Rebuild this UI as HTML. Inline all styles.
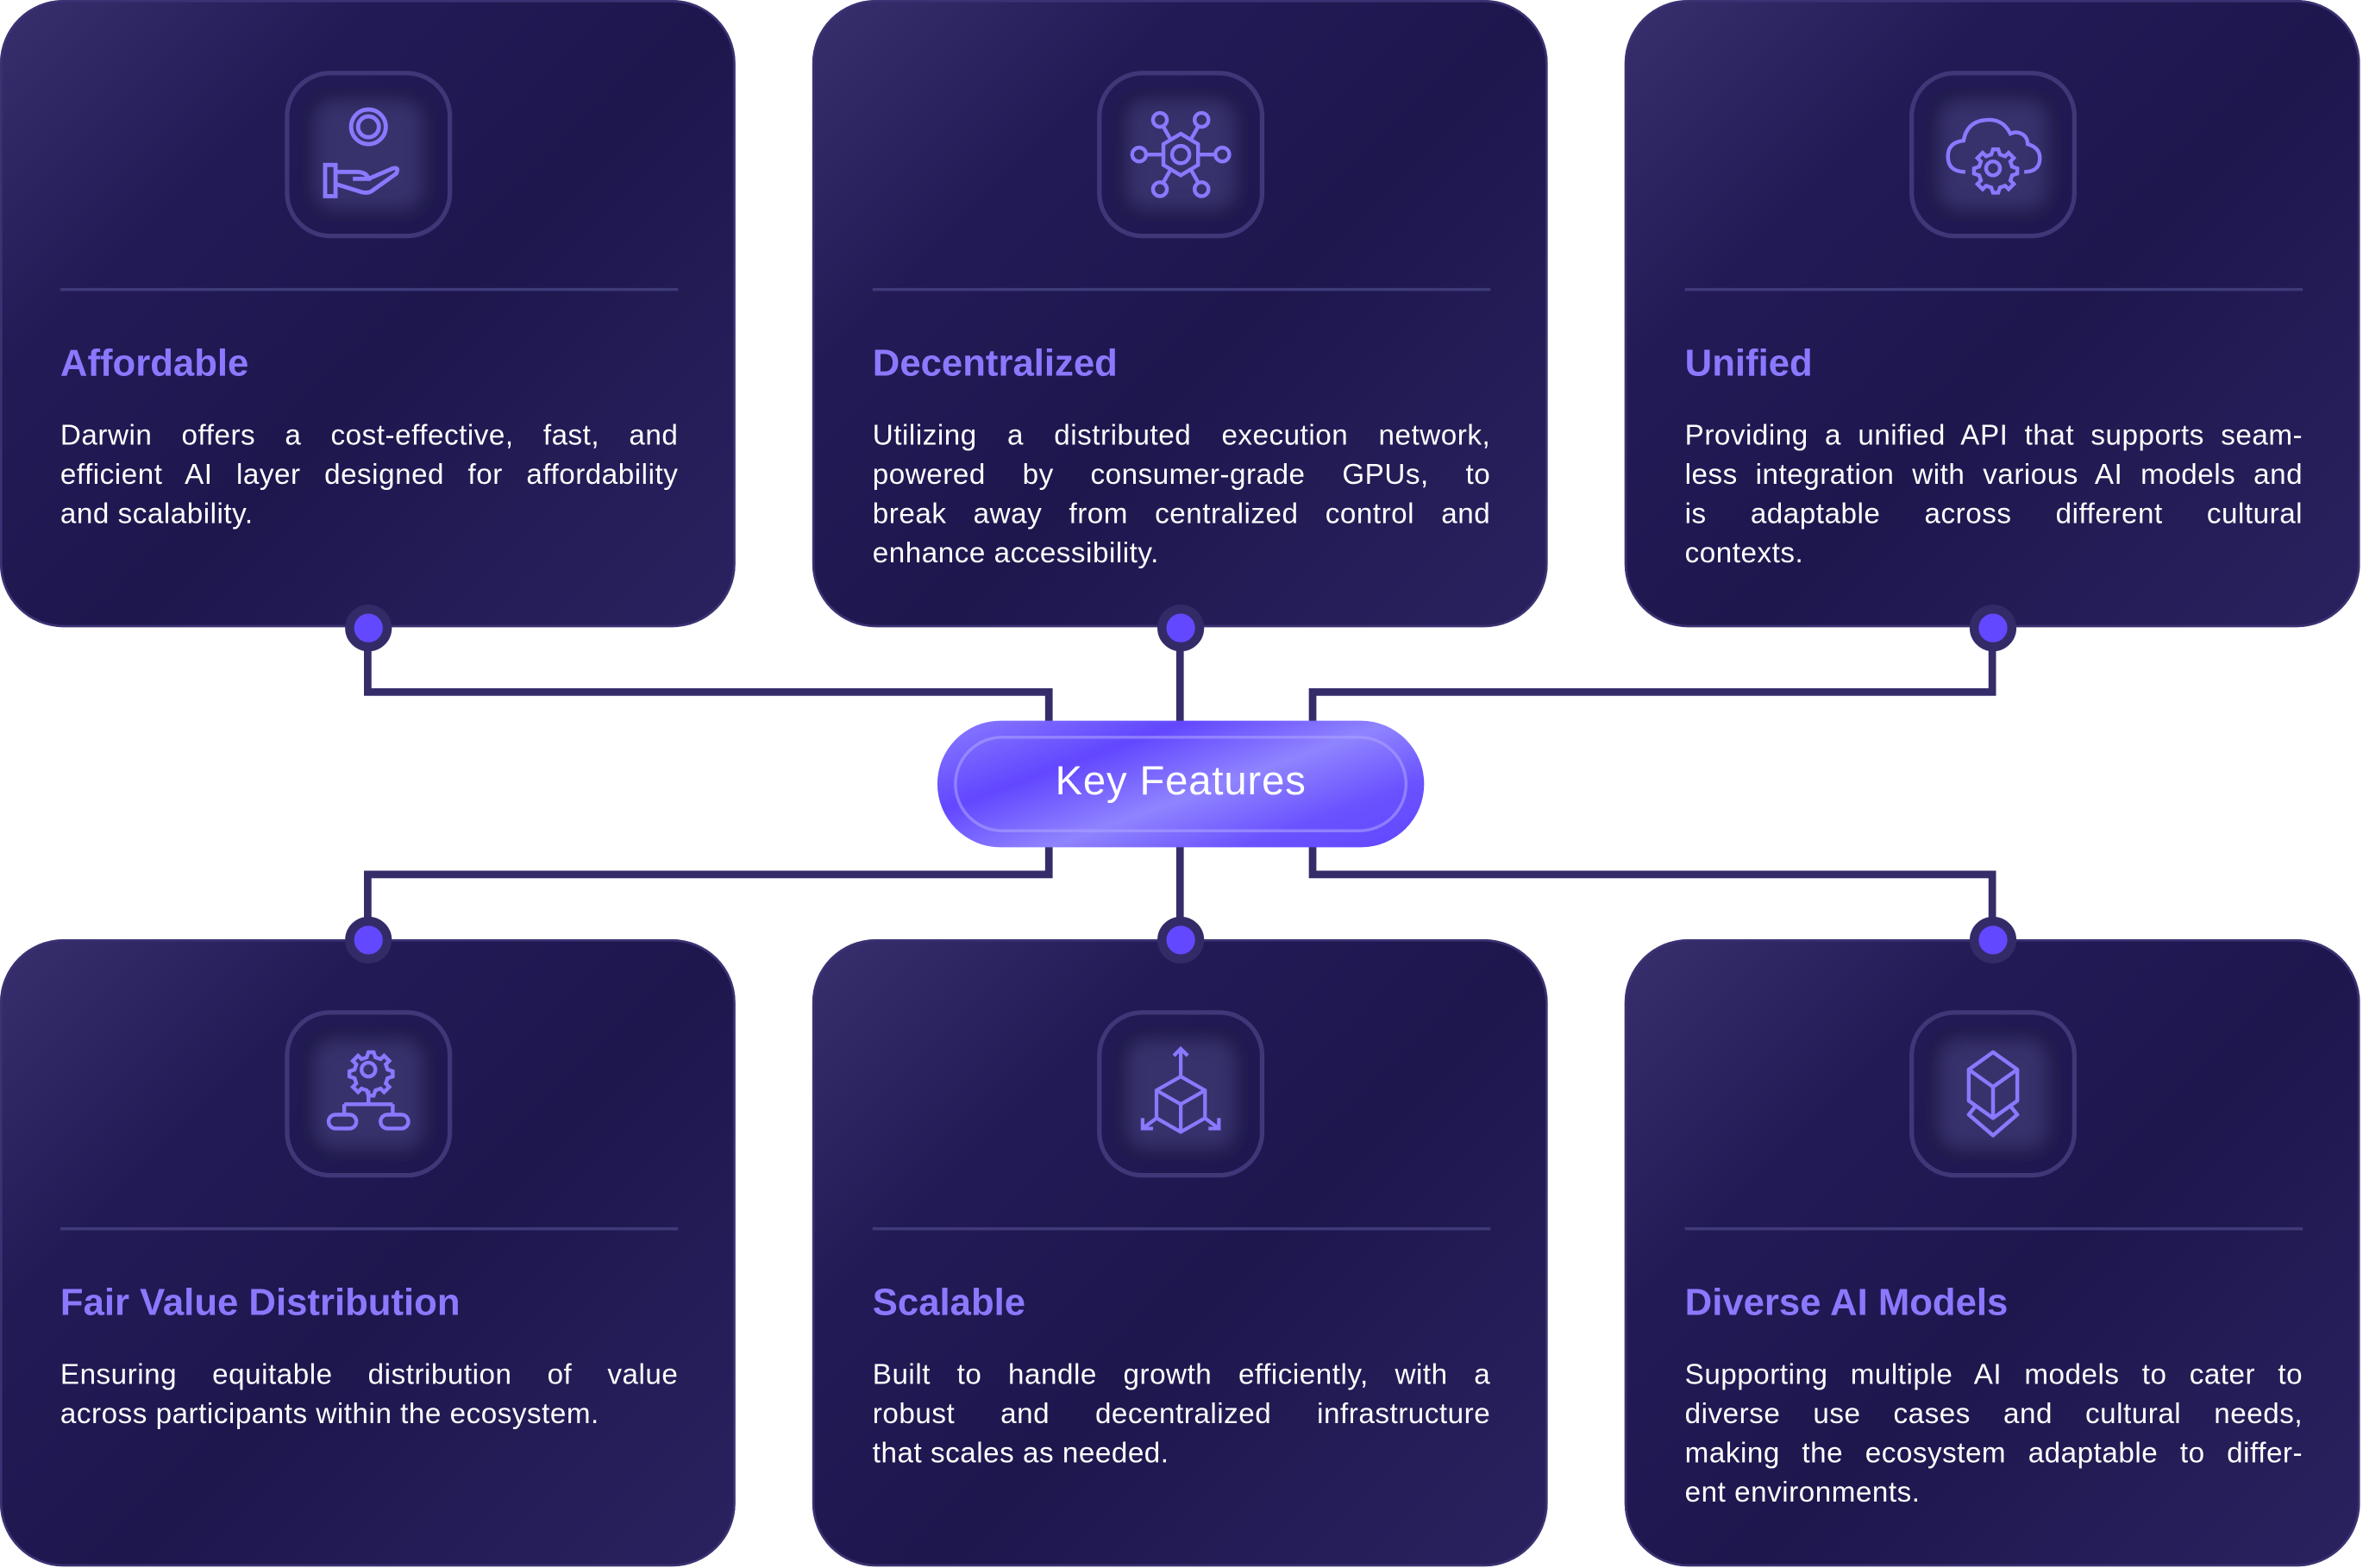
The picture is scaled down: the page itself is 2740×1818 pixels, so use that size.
<!DOCTYPE html>
<html><head><meta charset="utf-8"><style>
html,body{margin:0;padding:0;background:#fff;}
body{width:2740px;height:1818px;overflow:hidden;position:relative;}
#stage{position:absolute;left:0;top:0;width:1568px;height:1040px;transform-origin:0 0;transform:scale(1.74745,1.74808);font-family:"Liberation Sans",sans-serif;}
.card{position:absolute;width:488px;height:416px;border-radius:42px;background:linear-gradient(135deg,#38306e 0%,#221a55 28%,#1e174e 55%,#2a225f 100%);box-shadow:inset 0 0 0 1.5px #3a3272;}
.ib{position:absolute;left:189px;top:47px;width:105px;height:105px;border:3px solid #3e3878;border-radius:30px;}
.ii{position:absolute;left:8px;top:8px;width:89px;height:89px;border-radius:22px;background:#38326c;box-shadow:inset 0 0 12px 8px #1f1a4c;}
.ii svg{position:absolute;left:10px;top:10px;width:69px;height:69px;}
.div{position:absolute;left:40px;top:191px;width:410px;height:1.5px;background:#3f3a79;}
.t{position:absolute;left:40px;top:227px;font-size:25px;font-weight:bold;color:#8a79ff;white-space:nowrap;}
.b{position:absolute;left:40px;top:277px;width:410px;font-size:19px;line-height:26px;color:#fff;letter-spacing:0.3px;}
.b div{text-align:justify;text-align-last:justify;white-space:nowrap;}
.b div.l{text-align-last:left;}
.dot{position:absolute;width:19px;height:19px;border-radius:50%;background:#6248ff;border:6px solid #332b68;margin:-15.5px 0 0 -15.5px;}
.pill{position:absolute;left:622px;top:478px;width:323px;height:84px;border-radius:42px;background:linear-gradient(160deg,#8a7dff 0%,#6247ff 30%,#8f84ff 55%,#6a52ff 78%,#6247ff 100%);}
.pill .in{position:absolute;left:11px;top:10px;right:11px;bottom:10px;border-radius:32px;border:2px solid rgba(170,160,255,0.6);}
.pill .tx{position:absolute;left:0;right:0;top:25px;text-align:center;color:#fff;font-size:27px;letter-spacing:0.5px;}
</style></head><body><div id="stage">
<svg style="position:absolute;left:0;top:0" width="1568" height="1040">
<g fill="none" stroke="#352d6a" stroke-width="5">
<polyline points="244,416 244,459 696,459 696,480"/>
<line x1="783" y1="416" x2="783" y2="480"/>
<polyline points="1322,416 1322,459 871,459 871,480"/>
<polyline points="244,623 244,580 696,580 696,560"/>
<line x1="783" y1="623" x2="783" y2="560"/>
<polyline points="1322,623 1322,580 871,580 871,560"/>
</g></svg>

<div class="card" style="left:0;top:0">
<div class="ib"><div class="ii"><svg viewBox="0 0 60 60" fill="none" stroke="#8a79ff" stroke-width="2.4"><circle cx="30" cy="14" r="10"/><circle cx="30" cy="14" r="6"/><rect x="5" y="36" width="6" height="18"/><path d="M11 40 h12 q6 0 7 4 h-9 M30 44 l14-6 q4-1 2 3 l-14 10 q-3 2-8 0 l-13-4"/></svg></div></div>
<div class="div"></div><div class="t">Affordable</div>
<div class="b"><div>Darwin offers a cost-effective, fast, and</div><div>efficient AI layer designed for affordability</div><div class="l">and scalability.</div></div>
</div>

<div class="card" style="left:539px;top:0">
<div class="ib"><div class="ii"><svg viewBox="0 0 60 60" fill="none" stroke="#8a79ff" stroke-width="2.2"><path d="M30 18 L40 24 V36 L30 42 L20 36 V24 Z"/><circle cx="30" cy="30" r="5"/><circle cx="18" cy="10" r="4"/><circle cx="42" cy="10" r="4"/><circle cx="18" cy="50" r="4"/><circle cx="42" cy="50" r="4"/><circle cx="6" cy="30" r="4"/><circle cx="54" cy="30" r="4"/><path d="M20 14 L24 21 M40 14 L36 21 M20 46 L24 39 M40 46 L36 39 M10 30 H20 M40 30 H50"/></svg></div></div>
<div class="div"></div><div class="t">Decentralized</div>
<div class="b"><div>Utilizing a distributed execution network,</div><div>powered by consumer-grade GPUs, to</div><div>break away from centralized control and</div><div class="l">enhance accessibility.</div></div>
</div>

<div class="card" style="left:1078px;top:0">
<div class="ib"><div class="ii"><svg viewBox="0 0 60 60" fill="none" stroke="#8a79ff" stroke-width="2.2"><path d="M14 40 q-10 0-10-9 q0-8 9-9 q2-12 15-12 q8 0 12 8 q4-2 8 1 q2 2 2 5 q7 2 7 8 q0 8-9 8"/><circle cx="30" cy="38" r="4"/><path d="M30 27 l3 0 1 3 3 1 2-2 3 3-2 2 1 3 3 1v3l-3 1-1 3 2 2-3 3-2-2-3 1-1 3h-3l-1-3-3-1-2 2-3-3 2-2-1-3-3-1v-3l3-1 1-3-2-2 3-3 2 2 3-1z"/></svg></div></div>
<div class="div"></div><div class="t">Unified</div>
<div class="b"><div>Providing a unified API that supports seam-</div><div>less integration with various AI models and</div><div>is adaptable across different cultural</div><div class="l">contexts.</div></div>
</div>

<div class="card" style="left:0;top:623px">
<div class="ib"><div class="ii"><svg viewBox="0 0 60 60" fill="none" stroke="#8a79ff" stroke-width="2.2"><circle cx="30" cy="16" r="4"/><path d="M30 6 l3 0 1 3 3 1 2-2 3 3-2 2 1 3 3 1v3l-3 1-1 3 2 2-3 3-2-2-3 1-1 3h-3l-1-3-3-1-2 2-3-3 2-2-1-3-3-1v-3l3-1 1-3-2-2 3-3 2 2 3-1z"/><path d="M30 28 V36 M16 36 H44 M16 36 V42 M44 36 V42"/><rect x="7" y="42" width="16" height="8" rx="4"/><rect x="37" y="42" width="16" height="8" rx="4"/></svg></div></div>
<div class="div"></div><div class="t">Fair Value Distribution</div>
<div class="b"><div>Ensuring equitable distribution of value</div><div class="l">across participants within the ecosystem.</div></div>
</div>

<div class="card" style="left:539px;top:623px">
<div class="ib"><div class="ii"><svg viewBox="0 0 60 60" fill="none" stroke="#8a79ff" stroke-width="2.1"><path d="M30 20 L44 28 V44 L30 52 L16 44 V28 Z M16 28 L30 36 L44 28 M30 36 V52 M30 4 V20 M26 8 L30 4 L34 8 M16 44 L8 50 M8 44 V50 H14 M44 44 L52 50 M52 44 V50 H46"/></svg></div></div>
<div class="div"></div><div class="t">Scalable</div>
<div class="b"><div>Built to handle growth efficiently, with a</div><div>robust and decentralized infrastructure</div><div class="l">that scales as needed.</div></div>
</div>

<div class="card" style="left:1078px;top:623px">
<div class="ib"><div class="ii"><svg viewBox="0 0 60 60" fill="none" stroke="#8a79ff" stroke-width="2.2" stroke-linejoin="round"><path d="M30 6 L44 16 V34 L30 44 L16 34 V16 Z M16 16 L30 26 L44 16 M30 26 V44 M20 37 L16 42 L30 54 L44 42 L40 37"/></svg></div></div>
<div class="div"></div><div class="t">Diverse AI Models</div>
<div class="b"><div>Supporting multiple AI models to cater to</div><div>diverse use cases and cultural needs,</div><div>making the ecosystem adaptable to differ-</div><div class="l">ent environments.</div></div>
</div>

<div class="dot" style="left:244px;top:416px"></div>
<div class="dot" style="left:783px;top:416px"></div>
<div class="dot" style="left:1322px;top:416px"></div>
<div class="dot" style="left:244px;top:623px"></div>
<div class="dot" style="left:783px;top:623px"></div>
<div class="dot" style="left:1322px;top:623px"></div>

<div class="pill"><div class="in"></div><div class="tx">Key Features</div></div>
</div></body></html>
